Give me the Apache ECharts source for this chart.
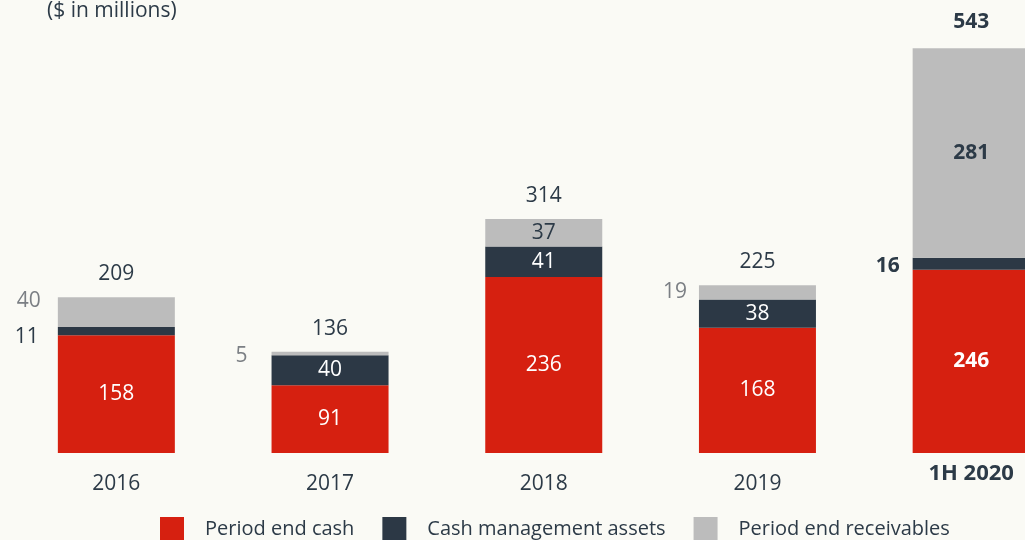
<!DOCTYPE html>
<html>
<head>
<meta charset="utf-8">
<style>
    html, body { margin: 0; padding: 0; background: #fafaf5; overflow: hidden; }
    /* the last bar is cut by the right edge, so the chart is wider than the window */
    #main { width: 1078px; height: 540px; }
</style>
<script src="https://cdn.jsdelivr.net/npm/echarts@6/dist/echarts.min.js"></script>
</head>
<body>
<div id="main"></div>
<script type="text/javascript">
    // data
    var categories = ['2016', '2017', '2018', '2019', '1H 2020'];
    var cash = [158, 91, 236, 168, 246];
    var cashMgmt = [11, 40, 41, 38, 16];
    var receivables = [40, 5, 37, 19, 281];
    var totals = [209, 136, 314, 225, 543];

    var DARK = '#2c3a47';
    var GREY_TXT = '#7b7f84';
    var FONT = '"Open Sans", "Noto Sans", sans-serif';
    var LAST = categories.length - 1;

    // small segments get their number outside on the left
    var outside = {
        'rec-0': { offset: [0, -11], distance: 17, color: GREY_TXT },
        'rec-1': { offset: [0, 3], distance: 24, color: GREY_TXT },
        'rec-3': { offset: [0, 0], distance: 12, color: GREY_TXT },
        'mgmt-0': { offset: [0, 6], distance: 19, color: DARK },
        'mgmt-4': { offset: [0, 2], distance: 13, color: DARK, fontWeight: 'bold' }
    };

    function items(key, values, insideColor) {
        return values.map(function (v, i) {
            var o = outside[key + '-' + i];
            var lbl;
            if (o) {
                lbl = { show: true, position: 'left', distance: o.distance, offset: o.offset,
                        color: o.color, fontWeight: o.fontWeight || 'normal' };
            } else {
                lbl = { show: true, position: 'inside', color: insideColor,
                        fontWeight: i === LAST ? 'bold' : 'normal' };
            }
            return { value: v, label: lbl };
        });
    }

    var myChart = echarts.init(document.getElementById('main'));
    myChart.setOption({
        backgroundColor: '#fafaf5',
        animation: false,
        textStyle: { fontFamily: FONT },
        title: {
            text: '($ in millions)',
            left: 47, top: 1, padding: 0,
            textStyle: { fontFamily: FONT, fontSize: 21, fontWeight: 'normal', color: DARK }
        },
        legend: {
            data: ['Period end cash', 'Cash management assets', 'Period end receivables'],
            left: 160, top: 517, padding: 0,
            itemWidth: 24, itemHeight: 24, itemGap: 28,
            icon: 'rect',
            textStyle: { fontFamily: FONT, fontSize: 20, color: DARK, padding: [0, 0, 0, 16] }
        },
        grid: { left: 9.5, right: 0, top: 5.8, bottom: 87 },
        xAxis: {
            type: 'category',
            data: categories,
            axisLine: { show: false },
            axisTick: { show: false },
            axisLabel: {
                margin: 10,
                fontFamily: FONT,
                fontSize: 21,
                color: DARK,
                formatter: function (v) {
                    return v === categories[LAST] ? '{b|' + v + '}' : '{n|' + v + '}';
                },
                rich: {
                    n: { fontFamily: FONT, fontSize: 21, color: DARK, padding: [11, 0, 0, 0] },
                    b: { fontFamily: FONT, fontSize: 22, color: DARK, fontWeight: 'bold' }
                }
            }
        },
        yAxis: {
            type: 'value',
            min: 0, max: 600,
            show: false,
            splitLine: { show: false }
        },
        series: [
            {
                name: 'Period end cash',
                type: 'bar',
                stack: 'total',
                barWidth: 117,
                itemStyle: { color: '#d62010' },
                label: { fontFamily: FONT, fontSize: 21 },
                data: items('cash', cash, '#ffffff')
            },
            {
                name: 'Cash management assets',
                type: 'bar',
                stack: 'total',
                itemStyle: { color: '#2c3845' },
                label: { fontFamily: FONT, fontSize: 21 },
                data: items('mgmt', cashMgmt, '#ffffff')
            },
            {
                name: 'Period end receivables',
                type: 'bar',
                stack: 'total',
                itemStyle: { color: '#bcbcbc' },
                label: { fontFamily: FONT, fontSize: 21 },
                data: items('rec', receivables, DARK)
            },
            {
                // invisible line carrying the total above each bar
                name: 'Total',
                type: 'line',
                symbol: 'circle',
                symbolSize: 1,
                itemStyle: { opacity: 0 },
                lineStyle: { opacity: 0 },
                label: { fontFamily: FONT, fontSize: 21 },
                data: totals.map(function (v, i) {
                    return {
                        value: v,
                        label: { show: true, position: 'top', distance: i === LAST ? 15 : 12,
                                 color: DARK, opacity: 1,
                                 fontWeight: i === LAST ? 'bold' : 'normal' }
                    };
                })
            }
        ]
    });
</script>
</body>
</html>
